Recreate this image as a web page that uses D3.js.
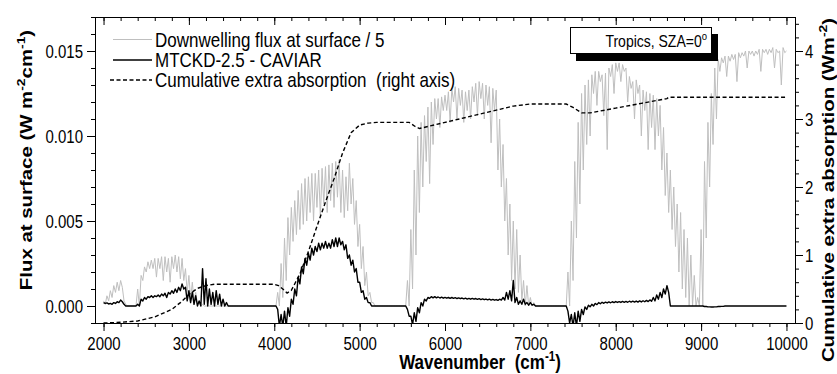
<!DOCTYPE html>
<html>
<head>
<meta charset="utf-8">
<script src="https://cdn.jsdelivr.net/npm/d3@7"></script>
<style>
  body { margin: 0; background: #fff; }
  svg { display: block; font-family: "Liberation Sans", Arial, sans-serif; }
</style>
</head>
<body>
<div id="chart"></div>
<script>
// spectra sampled every 40 cm-1 from 2000 to 10000, upper / lower envelope, units of 1e-4 W m-2 cm-1
const wnStart = 2000, wnStep = 40;
const grayHi = [
  3, 6, 9, 12, 14, 15, 3, 0, 0, 0,
  10, 18, 23, 26, 27, 28, 28, 29, 29, 28,
  29, 30, 29, 28, 22, 18, 14, 8, 3, 1,
  0, 0, 0, 0, 0, 0, 0, 0, 0, 0,
  0, 0, 0, 0, 0, 0, 0, 0, 0, 0,
  0, 8, 25, 40, 52, 58, 62, 68, 72, 75,
  76, 78, 78, 80, 81, 82, 83, 84, 85, 86,
  80, 76, 84, 75, 62, 48, 35, 20, 8, 2,
  0, 0, 0, 0, 0, 0, 0, 0, 0, 15,
  45, 80, 100, 108, 112, 117, 120, 122, 122, 123,
  124, 126, 128, 129, 128, 127, 126, 127, 129, 131,
  132, 131, 130, 129, 128, 127, 110, 95, 75, 60,
  50, 45, 30, 15, 12, 5, 2, 0, 0, 0,
  0, 0, 0, 0, 0, 0, 20, 50, 85, 108,
  125, 130, 133, 136, 138, 138, 136, 137, 140, 142,
  143, 143, 142, 140, 135, 132, 133, 130, 127, 126,
  125, 124, 122, 118, 105, 90, 80, 70, 60, 55,
  45, 40, 30, 18, 5, 45, 85, 108, 125, 140,
  145, 146, 147, 147, 148, 148, 149, 149, 150, 150,
  150, 150, 151, 151, 151, 151, 152, 151, 150, 152, 150
];
const grayLo = [
  1, 3, 5, 8, 9, 11, 1, 0, 0, 0,
  0, 15, 20, 22, 22, 17, 22, 15, 20, 14,
  22, 20, 16, 15, 8, 4, 3, 1, 0, 0,
  0, 0, 0, 0, 0, 0, 0, 0, 0, 0,
  0, 0, 0, 0, 0, 0, 0, 0, 0, 0,
  0, 0, 5, 15, 30, 38, 42, 45, 48, 50,
  55, 50, 58, 52, 60, 55, 62, 58, 64, 55,
  52, 56, 60, 48, 35, 22, 12, 6, 2, 0,
  0, 0, 0, 0, 0, 0, 0, 0, 0, 0,
  10, 30, 55, 70, 85, 72, 95, 110, 105, 115,
  115, 108, 120, 110, 118, 108, 115, 110, 120, 112,
  122, 110, 118, 96, 115, 80, 70, 50, 30, 15,
  10, 8, 3, 0, 0, 0, 0, 0, 0, 0,
  0, 0, 0, 0, 0, 0, 0, 15, 40, 60,
  80, 95, 100, 125, 118, 132, 112, 92, 135, 125,
  138, 132, 138, 120, 128, 110, 125, 100, 115, 92,
  105, 92, 100, 80, 65, 55, 45, 35, 20, 10,
  5, 0, 0, 0, 0, 0, 40, 70, 95, 110,
  138, 143, 135, 144, 145, 132, 146, 147, 140, 148,
  147, 148, 138, 149, 148, 149, 140, 149, 130, 149, 146
];
const diffHi = [
  2, 1.8, 1.5, 2, 2.5, 3.5, 1, 0, 0, 0,
  1, 4, 5, 5.5, 6, 6, 6.5, 7, 7.5, 8,
  9, 10, 11, 13, 11, 9, 8, 6, 3, 22,
  16, 10, 8, 9, 7, 4, 2, 0, 0, 0,
  0, 0, 0, 0, 0, 0, 0, 0, 0, 0,
  0, -2, -5, -3, -1, 4, 10, 17, 23, 28,
  31, 34, 35, 37, 37, 38, 37, 39, 40, 40,
  38, 36, 30, 27, 22, 14, 9, 5, 2, 0,
  0, 0, 0, 0, 0, 0, 0, 0, 0, -2,
  -6, -4, -1, 2, 4, 5, 5.5, 5.5, 5.3, 5.2,
  5.1, 5, 5, 4.9, 4.8, 4.7, 4.6, 4.5, 4.5, 4.4,
  4.3, 4.2, 4.1, 4, 3.9, 3.8, 4, 5, 8, 9,
  15, 5, 3, 4, 2, 2, 1, 0, 0, 0,
  0, 0, 0, 0, 0, 0, -3, -5, -4, -3,
  -2, -0.5, 0.5, 1, 1.5, 2, 2.2, 2.3, 2.4, 2.5,
  2.6, 2.6, 2.7, 2.7, 2.8, 2.8, 2.9, 3, 3.1, 3.3,
  3.6, 5, 6.5, 8, 10, 12, 0, 0, 0, 0,
  0, 0, 0, 0, 0, 0, -0.3, -0.5, -0.6, -0.5,
  -0.3, -0.2, 0, 0, 0, 0, 0, 0, 0, 0,
  0, 0, 0, 0, 0, 0, 0, 0, 0, 0, 0
];
const diffLo = [
  1.5, 1.2, 1, 1.5, 2, 2.5, 0, 0, 0, 0,
  0, 3, 4, 5, 5, 5.5, 5.5, 6, 5, 7,
  7.5, 8, 9, 10, 3, 2, 1, 0, 0, 1,
  0, 1, 0, 1, 0, 0, 0, 0, 0, 0,
  0, 0, 0, 0, 0, 0, 0, 0, 0, 0,
  0, -12, -12, -12, -6, 1, 6, 13, 19, 24,
  27, 30, 32, 33, 34, 34, 34, 35, 35, 36,
  33, 28, 24, 20, 14, 8, 4, 2, 0, 0,
  0, 0, 0, 0, 0, 0, 0, 0, 0, -6,
  -11, -9, -4, 0, 3, 4.5, 4.8, 4.8, 4.7, 4.6,
  4.6, 4.5, 4.5, 4.4, 4.3, 4.2, 4.1, 4, 4, 3.9,
  3.8, 3.7, 3.6, 3.5, 3.4, 3.3, 3.5, 3.5, 4, 3,
  2, 1, 1, 1, 0.5, 0.5, 0, 0, 0, 0,
  0, 0, 0, 0, 0, 0, -10, -12, -12, -9,
  -5, -2, -0.5, 0, 0.8, 1.3, 1.6, 1.8, 1.9, 2,
  2.1, 2.1, 2.2, 2.2, 2.3, 2.3, 2.3, 2.4, 2.5, 2.6,
  2.8, 3, 4, 5, 7, 8, 0, 0, 0, 0,
  0, 0, 0, 0, 0, 0, -0.3, -0.5, -0.6, -0.5,
  -0.3, -0.2, 0, 0, 0, 0, 0, 0, 0, 0,
  0, 0, 0, 0, 0, 0, 0, 0, 0, 0, 0
];
// cumulative extra absorption, W m-2 (right axis)
const cumWn = [2000, 2200, 2400, 2600, 2800, 2900, 3000, 3100, 3200, 3300, 4000, 4050, 4100, 4150, 4200,
  4300, 4400, 4500, 4600, 4700, 4800, 4900, 5000, 5100, 5200, 5580, 5650, 5700, 6000, 6400, 6800, 7000,
  7420, 7500, 7600, 7700, 8000, 8300, 8600, 8620, 10000];
const cumVal = [0.0, 0.01, 0.03, 0.09, 0.2, 0.3, 0.42, 0.51, 0.55, 0.57, 0.57, 0.55, 0.5, 0.44, 0.48,
  0.72, 1.05, 1.42, 1.78, 2.12, 2.5, 2.8, 2.91, 2.94, 2.95, 2.95, 2.89, 2.86, 2.95, 3.07, 3.19, 3.22,
  3.22, 3.17, 3.09, 3.09, 3.16, 3.23, 3.30, 3.32, 3.32];

const xMajor = [2000, 3000, 4000, 5000, 6000, 7000, 8000, 9000, 10000];
const yMajor = [0, 0.005, 0.010, 0.015];
const y2Major = [0, 1, 2, 3, 4];
const legendLabels = ["Downwelling flux at surface / 5", "MTCKD-2.5 - CAVIAR", "Cumulative extra absorption  (right axis)"];
const noteLabel = "Tropics, SZA=0";

const width = 837, height = 374;
const plot = { left: 95, right: 795, top: 17, bottom: 323 };
const stretch = 1.2;   // text in the source is taller than wide

const x = d3.scaleLinear().domain([1900, 10100]).range([plot.left, plot.right]);
const y = d3.scaleLinear().domain([-0.001, 0.017]).range([plot.bottom, plot.top]);
const y2 = d3.scaleLinear().domain([0, 4.5]).range([plot.bottom, plot.top]);

const svg = d3.select("#chart").append("svg")
  .attr("width", width).attr("height", height);

svg.append("clipPath").attr("id", "clip")
  .append("rect")
  .attr("x", plot.left).attr("y", plot.top)
  .attr("width", plot.right - plot.left).attr("height", plot.bottom - plot.top);

// zigzag between upper and lower envelope of each 40 cm-1 bin
function zigzag(hi, lo) {
  const pts = [];
  hi.forEach((v, i) => {
    const wn = wnStart + i * wnStep;
    pts.push([wn, v]);
    if (i < hi.length - 1) pts.push([wn + wnStep / 2, lo[i]]);
  });
  return pts;
}

const flux = d3.line().x(d => x(d[0])).y(d => y(d[1] * 1e-4));
const series = svg.append("g").attr("clip-path", "url(#clip)");

series.append("path")
  .attr("d", flux(zigzag(grayHi, grayLo)))
  .attr("fill", "none").attr("stroke", "#bfbfbf").attr("stroke-width", 1);

series.append("path")
  .attr("d", flux(zigzag(diffHi, diffLo)))
  .attr("fill", "none").attr("stroke", "#000").attr("stroke-width", 1.4)
  .attr("stroke-linejoin", "round");

series.append("path")
  .attr("d", d3.line().x((d, i) => x(cumWn[i])).y(d => y2(d))(cumVal))
  .attr("fill", "none").attr("stroke", "#000").attr("stroke-width", 1.4)
  .attr("stroke-dasharray", "4,2.5");

// axes
function minorAxis(axis, pos) {
  svg.append("g").attr("transform", pos).call(axis)
    .call(g => g.select(".domain").remove());
}
minorAxis(d3.axisBottom(x).tickValues(d3.range(2000, 10001, 200)).tickSize(4).tickFormat(""), `translate(0,${plot.bottom})`);
minorAxis(d3.axisTop(x).tickValues(d3.range(2000, 10001, 200)).tickSize(-4).tickFormat(""), `translate(0,${plot.top})`);
minorAxis(d3.axisTop(x).tickValues(xMajor).tickSize(-8).tickFormat(""), `translate(0,${plot.top})`);
minorAxis(d3.axisLeft(y).tickValues(d3.range(-1, 18).map(v => v / 1000)).tickSize(4).tickFormat(""), `translate(${plot.left},0)`);
minorAxis(d3.axisRight(y2).tickValues(d3.range(0, 23).map(v => v * 0.2)).tickSize(4).tickFormat(""), `translate(${plot.right},0)`);

svg.append("g").attr("transform", `translate(0,${plot.bottom})`)
  .call(d3.axisBottom(x).tickValues(xMajor).tickSize(8).tickFormat(d3.format("d")))
  .call(g => g.select(".domain").remove())
  .call(g => g.selectAll("text")
    .attr("y", null).attr("dy", null)
    .attr("font-size", 15).attr("fill", "#000")
    .attr("transform", `translate(0,27) scale(1,${stretch})`));

svg.append("g").attr("transform", `translate(${plot.left},0)`)
  .call(d3.axisLeft(y).tickValues(yMajor).tickSize(8).tickFormat(d3.format(".3f")))
  .call(g => g.select(".domain").remove())
  .call(g => g.selectAll("text")
    .attr("x", null).attr("dy", "0.36em")
    .attr("font-size", 15).attr("fill", "#000")
    .attr("transform", `translate(-12,0) scale(1,${stretch})`));

svg.append("g").attr("transform", `translate(${plot.right},0)`)
  .call(d3.axisRight(y2).tickValues(y2Major).tickSize(8).tickFormat(d3.format("d")))
  .call(g => g.select(".domain").remove())
  .call(g => g.selectAll("text")
    .attr("x", null).attr("dy", "0.36em")
    .attr("font-size", 15).attr("fill", "#000")
    .attr("transform", `translate(10,0) scale(1,${stretch})`));

svg.selectAll(".tick line").attr("stroke", "#000");

svg.append("rect")
  .attr("x", plot.left + 0.5).attr("y", plot.top + 0.5)
  .attr("width", plot.right - plot.left).attr("height", plot.bottom - plot.top)
  .attr("fill", "none").attr("stroke", "#000");

// text with superscripts: parts = [[text, isSup], ...]
function richText(parent, parts, size, transform, anchor, weight) {
  const t = parent.append("text")
    .attr("transform", transform)
    .attr("font-size", size)
    .attr("font-weight", weight || "normal")
    .attr("text-anchor", anchor || "start")
    .style("white-space", "pre");
  const rise = size * 0.4;
  let up = false;
  parts.forEach(([s, sup]) => {
    const ts = t.append("tspan").text(s);
    if (sup && !up) { ts.attr("dy", -rise); up = true; }
    else if (!sup && up) { ts.attr("dy", rise); up = false; }
    if (sup) ts.attr("font-size", size * 0.68);
  });
  return t;
}

richText(svg, [["Flux at surface (W m"], ["-2", true], ["cm"], ["-1", true], [")"]], 17,
  `translate(32,160) scale(1,${stretch}) rotate(-90)`, "middle", "bold");
richText(svg, [["Wavenumber  (cm"], ["-1", true], [")"]], 17,
  `translate(480,369) scale(1,${stretch})`, "middle", "bold");
richText(svg, [["Cumulative extra absorption (Wm"], ["-2", true], [")"]], 17,
  `translate(834,190) scale(1,${stretch}) rotate(-90)`, "middle", "bold");

// legend
const legendRows = [
  { y: 39.5, stroke: "#bfbfbf", w: 1, dash: null, x0: 113 },
  { y: 60, stroke: "#000", w: 1.4, dash: null, x0: 113 },
  { y: 80, stroke: "#000", w: 1.4, dash: "4,2.5", x0: 110 }
];
legendRows.forEach((r, i) => {
  svg.append("line")
    .attr("x1", r.x0).attr("x2", 152).attr("y1", r.y).attr("y2", r.y)
    .attr("stroke", r.stroke).attr("stroke-width", r.w)
    .attr("stroke-dasharray", r.dash);
  richText(svg, [[legendLabels[i]]], 17, `translate(155,${r.y + 7}) scale(1,${stretch})`);
});

// note box with drop shadow
const note = svg.append("g").attr("transform", "translate(570.5,27.5)");
note.append("rect").attr("x", 6).attr("y", 7).attr("width", 141).attr("height", 26)
  .attr("fill", "#000").attr("stroke", "#000");
note.append("rect").attr("x", 0).attr("y", 0).attr("width", 141).attr("height", 26)
  .attr("fill", "#fff").attr("stroke", "#000");
richText(svg, [[noteLabel], ["o", true]], 14, `translate(707,46.5) scale(1,${stretch})`, "end");
</script>
</body>
</html>
